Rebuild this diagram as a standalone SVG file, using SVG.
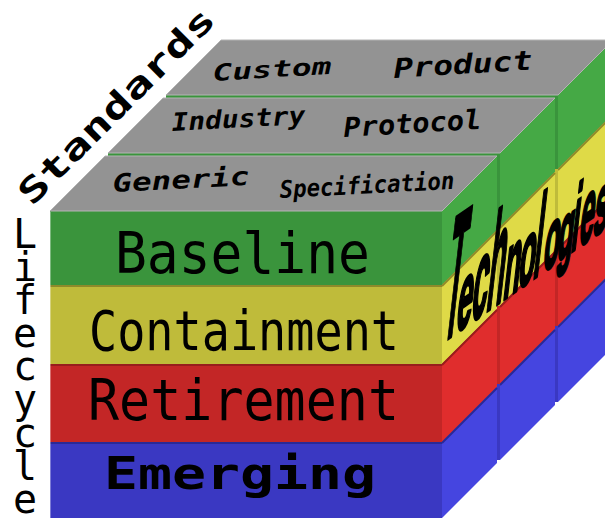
<svg xmlns="http://www.w3.org/2000/svg" width="605" height="518" viewBox="0 0 605 518">
  <style>
    .top { fill: #939393; stroke: #b4b4b4; stroke-width: 1; }
    .gf { fill: #3a943c; } .yf { fill: #bfbb3a; } .rf { fill: #c32626; } .bf { fill: #3a38c2; }
    .gs { fill: #45a945; } .ys { fill: #dfda47; } .rs { fill: #e02d2d; } .bs { fill: #4545e0; }
    .ly { stroke: #8e8a2a; stroke-width: 2; fill: none; }
    .lr { stroke: #981d1d; stroke-width: 2; fill: none; }
    .lb { stroke: #2a2996; stroke-width: 2; fill: none; }
    .hl { stroke: #ffffff; stroke-opacity: 0.35; stroke-width: 1; fill: none; }
    .cat { font-family: "DejaVu Sans Mono", monospace; font-weight: bold; font-style: oblique; fill: #000; }
    .main { font-family: "DejaVu Sans Mono", monospace; fill: #000; }
    .axis { font-family: "DejaVu Sans Mono", monospace; fill: #000; }
    .tech { font-family: "Liberation Sans", Arial, sans-serif; font-weight: bold; font-size: 26px; fill: #000;
            stroke: #000; stroke-width: 3.2; stroke-linejoin: round; vector-effect: non-scaling-stroke; }
  </style>

  <!-- back slab: Custom / Product -->
  <g id="slab-custom">
    <polygon class="gs" points="558,95 613,40 613,114 558,169"/>
    <polygon class="ys" points="558,169 613,114 613,193 558,248"/>
    <polygon class="rs" points="558,248 613,193 613,271 558,326"/>
    <polygon class="bs" points="558,326 613,271 613,347 558,402"/>
    <polyline class="ly" points="558,170 613,115"/>
    <polyline class="lr" points="558,249 613,194"/>
    <polyline class="lb" points="558,327 613,272"/>
    <rect class="gf" x="166" y="95" width="392" height="74"/>
    <rect class="yf" x="166" y="169" width="392" height="79"/>
    <rect class="rf" x="166" y="248" width="392" height="78"/>
    <rect class="bf" x="166" y="326" width="392" height="76"/>
    <polygon class="top" points="166,95 558,95 613,40 221,40"/>
    <text class="cat" x="213" y="81" font-size="23" textLength="119" lengthAdjust="spacingAndGlyphs" transform="rotate(-3.5 213 81)">Custom</text>
    <text class="cat" x="394" y="78" font-size="27" textLength="139" lengthAdjust="spacingAndGlyphs" transform="rotate(-3.5 394 78)">Product</text>
  </g>

  <!-- middle slab: Industry / Protocol -->
  <g id="slab-industry">
    <polygon class="gs" points="500,153 555,98 555,172 500,227"/>
    <polygon class="ys" points="500,227 555,172 555,251 500,306"/>
    <polygon class="rs" points="500,306 555,251 555,329 500,384"/>
    <polygon class="bs" points="500,384 555,329 555,405 500,460"/>
    <polyline class="ly" points="500,228 555,173"/>
    <polyline class="lr" points="500,307 555,252"/>
    <polyline class="lb" points="500,385 555,330"/>
    <rect class="gf" x="108" y="153" width="392" height="74"/>
    <rect class="yf" x="108" y="227" width="392" height="79"/>
    <rect class="rf" x="108" y="306" width="392" height="78"/>
    <rect class="bf" x="108" y="384" width="392" height="76"/>
    <polygon class="top" points="108,153 500,153 555,98 163,98"/>
    <text class="cat" x="172" y="131" font-size="25" textLength="134" lengthAdjust="spacingAndGlyphs" transform="rotate(-3 172 131)">Industry</text>
    <text class="cat" x="344" y="137" font-size="27" textLength="138" lengthAdjust="spacingAndGlyphs" transform="rotate(-3.5 344 137)">Protocol</text>
  </g>

  <!-- front slab: Generic / Specification, with the lifecycle layers -->
  <g id="slab-generic">
    <polygon class="gs" points="442,211 497,156 497,230 442,285"/>
    <polygon class="ys" points="442,285 497,230 497,309 442,364"/>
    <polygon class="rs" points="442,364 497,309 497,387 442,442"/>
    <polygon class="bs" points="442,442 497,387 497,463 442,518"/>
    <polyline class="ly" points="442,286 497,231"/>
    <polyline class="lr" points="442,365 497,310"/>
    <polyline class="lb" points="442,443 497,388"/>
    <rect class="gf" x="50" y="211" width="392" height="74"/>
    <rect class="yf" x="50" y="285" width="392" height="79"/>
    <rect class="rf" x="50" y="364" width="392" height="78"/>
    <rect class="bf" x="50" y="442" width="392" height="78"/>
    <polyline class="ly" points="50,286 442,286"/>
    <polyline class="lr" points="50,365 442,365"/>
    <polyline class="lb" points="50,443 442,443"/>
    <polyline class="hl" points="50.5,212 50.5,518"/>
    <polygon class="top" points="50,211 442,211 497,156 105,156"/>
    <text class="cat" x="113" y="192" font-size="25" textLength="137" lengthAdjust="spacingAndGlyphs" transform="rotate(-3 113 192)">Generic</text>
    <text class="cat" x="280" y="198" font-size="24" textLength="175" lengthAdjust="spacingAndGlyphs" transform="rotate(-3 280 198)">Specification</text>
  </g>

  <!-- lifecycle stage names on the front face -->
  <g id="stage-baseline"><text class="main" x="115" y="273" font-size="57.6" textLength="255" lengthAdjust="spacingAndGlyphs">Baseline</text></g>
  <g id="stage-containment"><text class="main" x="89" y="350" font-size="56" textLength="310" lengthAdjust="spacingAndGlyphs">Containment</text></g>
  <g id="stage-retirement"><text class="main" x="88" y="420" font-size="57.6" textLength="311" lengthAdjust="spacingAndGlyphs">Retirement</text></g>
  <g id="stage-emerging"><text class="main" x="104" y="489" font-size="45" font-weight="bold" textLength="272" lengthAdjust="spacingAndGlyphs">Emerging</text></g>

  <!-- axis titles -->
  <g id="axis-standards">
    <text class="axis" x="32" y="207" font-size="34" font-weight="bold" textLength="262" lengthAdjust="spacingAndGlyphs" transform="rotate(-45 32 207)">Standards</text>
  </g>
  <g id="axis-lifecycle">
    <text class="axis" font-size="40" text-anchor="middle"><tspan x="25" y="248">L</tspan><tspan x="25" y="281">i</tspan><tspan x="25" y="314">f</tspan><tspan x="25" y="347">e</tspan><tspan x="25" y="380">c</tspan><tspan x="25" y="413">y</tspan><tspan x="25" y="447">c</tspan><tspan x="25" y="480">l</tspan><tspan x="25" y="513">e</tspan></text>
  </g>
  <g id="axis-technologies">
    <text class="tech" transform="matrix(1.12,-0.78,-0.8,7.0,441,343.4)">T</text>
    <text class="tech" transform="matrix(1.08,-0.75,-0.42,3.7,455,333.6)">e</text>
    <text class="tech" transform="matrix(1.08,-0.75,-0.50,4.4,470,323.1)">c</text>
    <text class="tech" transform="matrix(1.08,-0.75,-0.62,5.4,485,312.6)">h</text>
    <text class="tech" transform="matrix(1.05,-0.73,-0.42,3.7,502,300.7)">n</text>
    <text class="tech" transform="matrix(1.05,-0.73,-0.40,3.55,517,290.2)">o</text>
    <text class="tech" transform="matrix(1.05,-0.73,-0.52,4.6,532,279.7)">l</text>
    <text class="tech" transform="matrix(1.0,-0.7,-0.38,3.3,542,272.7)">o</text>
    <text class="tech" transform="matrix(1.0,-0.7,-0.36,3.1,556,262.9)">g</text>
    <text class="tech" transform="matrix(1.0,-0.7,-0.42,3.7,570,253.1)">i</text>
    <text class="tech" transform="matrix(1.0,-0.7,-0.40,3.55,578,247.5)">e</text>
    <text class="tech" transform="matrix(1.0,-0.7,-0.38,3.3,592,237.7)">s</text>
  </g>
</svg>
